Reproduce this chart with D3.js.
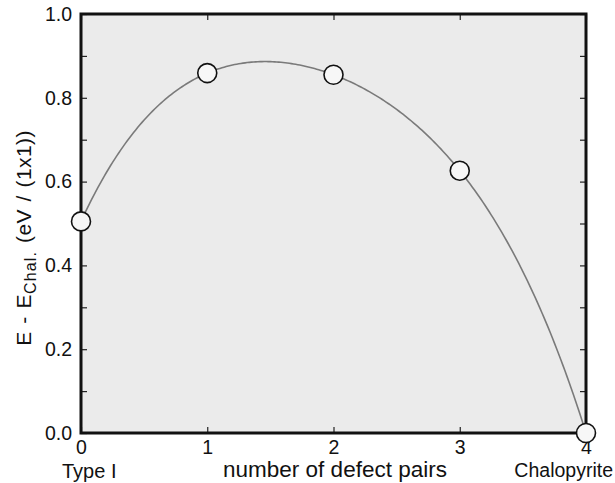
<!DOCTYPE html>
<html>
<head>
<meta charset="utf-8">
<script src="https://cdn.jsdelivr.net/npm/d3@7"></script>
<style>
  html, body { margin: 0; padding: 0; background: #fff; }
  svg text { font-family: "Liberation Sans", Arial, Helvetica, sans-serif; fill: #111; }
</style>
</head>
<body>
<svg id="chart" width="615" height="483"></svg>
<script>
// Relative energy vs number of defect pairs
const defectPairs = [0, 1, 2, 3, 4];
const energy = [0.505, 0.859, 0.855, 0.626, 0.0];
const xTickValues = [0, 1, 2, 3, 4];
const yTickValues = [0.0, 0.2, 0.4, 0.6, 0.8, 1.0];
const endLabels = ["Type I", "Chalopyrite"];
const xTitle = "number of defect pairs";

const W = 615, H = 483;
const margin = { left: 81, right: 29, top: 14, bottom: 50 };
const svg = d3.select("#chart");

const x = d3.scaleLinear().domain([0, 4]).range([margin.left, W - margin.right]);
const y = d3.scaleLinear().domain([0, 1]).range([H - margin.bottom, margin.top]);

// Smooth curve: single polynomial passing through every point of the line
function curvePolynomial(context) {
  let xs = [], ys = [];
  return {
    areaStart() {}, areaEnd() {},
    lineStart() { xs = []; ys = []; },
    point(px, py) { xs.push(+px); ys.push(+py); },
    lineEnd() {
      const n = xs.length;
      if (!n) return;
      const f = t => {
        let s = 0;
        for (let i = 0; i < n; i++) {
          let L = 1;
          for (let j = 0; j < n; j++) if (j !== i) L *= (t - xs[j]) / (xs[i] - xs[j]);
          s += ys[i] * L;
        }
        return s;
      };
      const steps = 240;
      context.moveTo(xs[0], ys[0]);
      for (let k = 1; k <= steps; k++) {
        const t = xs[0] + (xs[n - 1] - xs[0]) * k / steps;
        context.lineTo(t, f(t));
      }
    }
  };
}

// plot background
svg.append("rect")
  .attr("x", x(0)).attr("y", y(1))
  .attr("width", x(4) - x(0)).attr("height", y(0) - y(1))
  .attr("fill", "#ebebeb");

// inward ticks on all four sides
const tickStyle = g => {
  g.select(".domain").remove();
  g.selectAll(".tick line").attr("stroke", "#222").attr("stroke-width", 1.2);
  g.selectAll(".tick text").attr("font-size", 19.5).attr("fill", "#111")
    .attr("font-family", "'Liberation Sans', Arial, sans-serif");
};

const minorY = d3.range(0, 1.01, 0.1);

svg.append("g")
  .attr("transform", `translate(${x(0)},0)`)
  .call(d3.axisLeft(y).tickValues(minorY).tickSize(-6).tickFormat(""))
  .call(tickStyle);
svg.append("g")
  .attr("transform", `translate(${x(0)},0)`)
  .call(d3.axisLeft(y).tickValues(yTickValues).tickSize(-6).tickPadding(9).tickFormat(d3.format(".1f")))
  .call(tickStyle)
  .call(g => g.selectAll(".tick line").remove());

svg.append("g")
  .attr("transform", `translate(${x(4)},0)`)
  .call(d3.axisRight(y).tickValues(minorY).tickSize(-6).tickFormat(""))
  .call(tickStyle);

svg.append("g")
  .attr("transform", `translate(0,${y(0)})`)
  .call(d3.axisBottom(x).tickValues(xTickValues).tickSize(-6).tickPadding(7).tickFormat(d3.format("d")))
  .call(tickStyle);

svg.append("g")
  .attr("transform", `translate(0,${y(1)})`)
  .call(d3.axisTop(x).tickValues(xTickValues).tickSize(-6).tickFormat(""))
  .call(tickStyle);

// fitted curve through the computed points
const line = d3.line()
  .x((d, i) => x(defectPairs[i]))
  .y(d => y(d))
  .curve(curvePolynomial);

svg.append("path")
  .datum(energy)
  .attr("d", line)
  .attr("fill", "none")
  .attr("stroke", "#7a7a7a")
  .attr("stroke-width", 1.6);

// frame
svg.append("rect")
  .attr("x", x(0)).attr("y", y(1))
  .attr("width", x(4) - x(0)).attr("height", y(0) - y(1))
  .attr("fill", "none")
  .attr("stroke", "#111")
  .attr("stroke-width", 3);

// data points
svg.append("g").selectAll("circle")
  .data(energy)
  .join("circle")
  .attr("cx", (d, i) => x(defectPairs[i]))
  .attr("cy", d => y(d))
  .attr("r", 9.5)
  .attr("fill", "#f7f7f7")
  .attr("stroke", "#111")
  .attr("stroke-width", 1.6);

// end-member labels under the axis
svg.append("text")
  .attr("x", 62).attr("y", 478)
  .attr("font-size", 20)
  .text(endLabels[0]);
svg.append("text")
  .attr("x", 613).attr("y", 477)
  .attr("text-anchor", "end")
  .attr("font-size", 19.5)
  .text(endLabels[1]);

// axis titles
svg.append("text")
  .attr("x", 335).attr("y", 477)
  .attr("text-anchor", "middle")
  .attr("font-size", 22.5)
  .text(xTitle);

const yTitle = svg.append("text")
  .attr("transform", `translate(31,238) rotate(-90)`)
  .attr("text-anchor", "middle")
  .attr("font-size", 21)
  .attr("word-spacing", 1.5)
  .attr("letter-spacing", 0.4);
yTitle.append("tspan").text("E - E");
yTitle.append("tspan").attr("font-size", 16).attr("letter-spacing", 1.2).attr("dy", 5).text("Chal.");
yTitle.append("tspan").attr("dy", -5).text(" (eV / (1x1))");
</script>
</body>
</html>
